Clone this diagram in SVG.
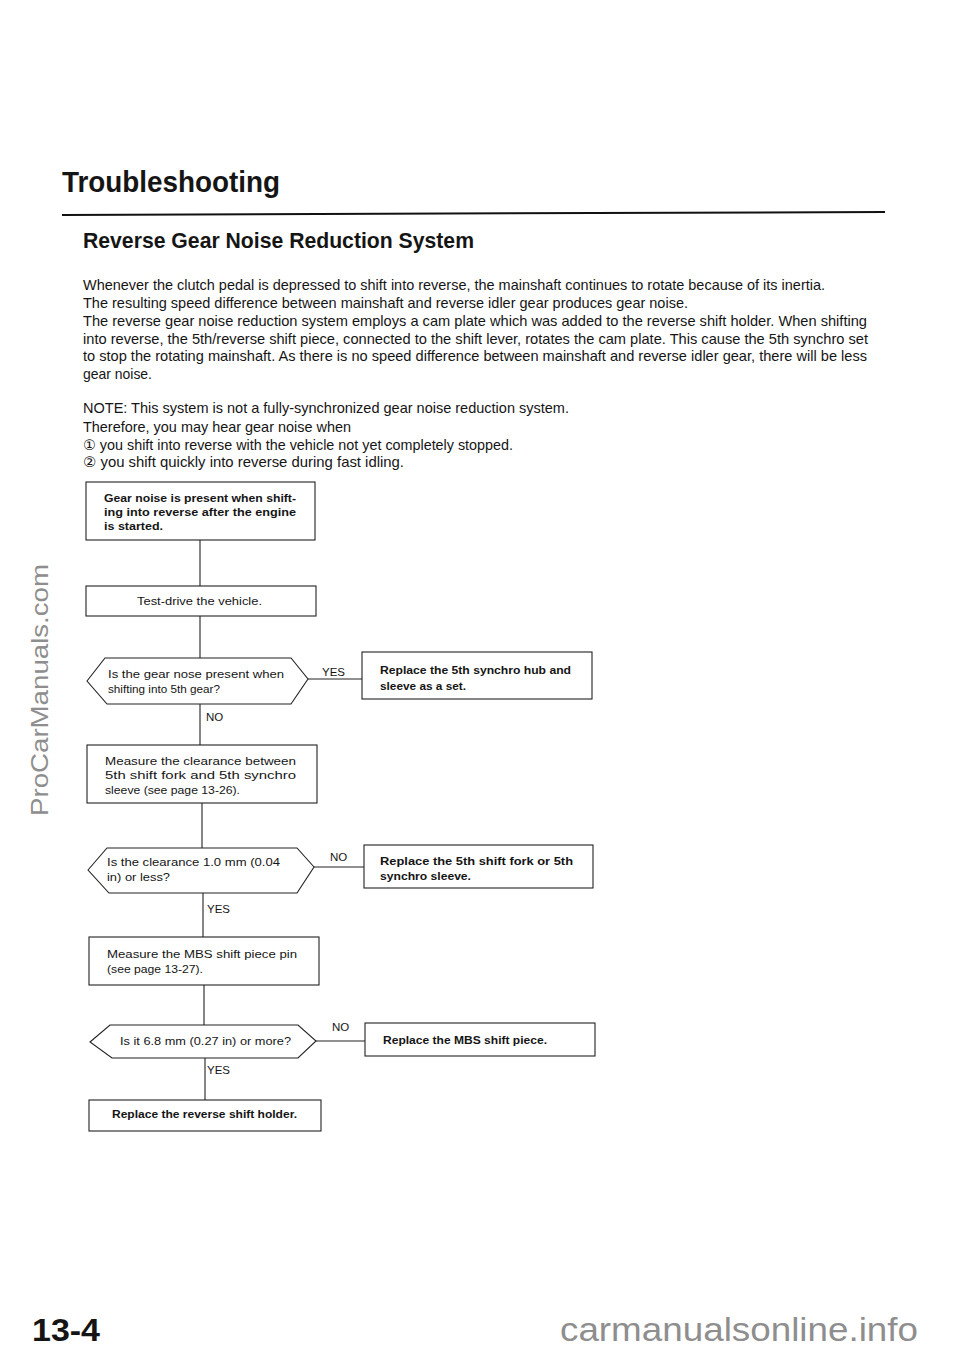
<svg xmlns="http://www.w3.org/2000/svg" width="960" height="1356" viewBox="0 0 960 1356">
<style>
text{font-family:"Liberation Sans","DejaVu Sans",Arial,sans-serif;fill:#151515}
.body{font-size:14.5px}
.fc{font-size:11px}
.b{font-weight:bold}
.lbl{font-size:11.5px}
.box{fill:#fff;stroke:#222;stroke-width:1.1}
.con{stroke:#222;stroke-width:1.1;fill:none}
.wm{fill:#8e8e8e}
</style>
<rect width="960" height="1356" fill="#fff"/>
<g id="header">
<text x="62" y="192" font-size="29" class="b" textLength="218" lengthAdjust="spacingAndGlyphs">Troubleshooting</text>
<line x1="62" y1="215" x2="885" y2="212" stroke="#111" stroke-width="2"/>
<text x="83" y="248" font-size="22" class="b" textLength="391" lengthAdjust="spacingAndGlyphs">Reverse Gear Noise Reduction System</text>
</g>
<g id="intro" class="body">
<text x="83" y="290" textLength="742" lengthAdjust="spacingAndGlyphs">Whenever the clutch pedal is depressed to shift into reverse, the mainshaft continues to rotate because of its inertia.</text>
<text x="83" y="308" textLength="605" lengthAdjust="spacingAndGlyphs">The resulting speed difference between mainshaft and reverse idler gear produces gear noise.</text>
<text x="83" y="326" textLength="784" lengthAdjust="spacingAndGlyphs">The reverse gear noise reduction system employs a cam plate which was added to the reverse shift holder. When shifting</text>
<text x="83" y="344" textLength="785" lengthAdjust="spacingAndGlyphs">into reverse, the 5th/reverse shift piece, connected to the shift lever, rotates the cam plate. This cause the 5th synchro set</text>
<text x="83" y="361" textLength="784" lengthAdjust="spacingAndGlyphs">to stop the rotating mainshaft. As there is no speed difference between mainshaft and reverse idler gear, there will be less</text>
<text x="83" y="379" textLength="69" lengthAdjust="spacingAndGlyphs">gear noise.</text>
<text x="83" y="413" textLength="486" lengthAdjust="spacingAndGlyphs">NOTE:  This system is not a fully-synchronized gear noise reduction system.</text>
<text x="83" y="432" textLength="268" lengthAdjust="spacingAndGlyphs">Therefore, you may hear gear noise when</text>
<text x="83" y="450" textLength="430" lengthAdjust="spacingAndGlyphs">① you shift into reverse with the vehicle not yet completely stopped.</text>
<text x="83" y="467" textLength="321" lengthAdjust="spacingAndGlyphs">② you shift quickly into reverse during fast idling.</text>
</g>
<g id="connectors" class="con">
<line x1="200" y1="540" x2="200" y2="586"/>
<line x1="200" y1="616" x2="200" y2="658"/>
<line x1="308" y1="679" x2="362" y2="679"/>
<line x1="200" y1="704" x2="200" y2="745"/>
<line x1="202" y1="803" x2="202" y2="848"/>
<line x1="314" y1="867" x2="364" y2="867"/>
<line x1="203" y1="893" x2="203" y2="937"/>
<line x1="204" y1="985" x2="204" y2="1025"/>
<line x1="316" y1="1041" x2="365" y2="1041"/>
<line x1="205" y1="1058" x2="205" y2="1100"/>
</g>
<g id="labels" class="lbl">
<text x="322" y="676">YES</text>
<text x="206" y="721">NO</text>
<text x="330" y="861">NO</text>
<text x="207" y="913">YES</text>
<text x="332" y="1031">NO</text>
<text x="207" y="1074">YES</text>
</g>
<g id="n1">
<rect class="box" x="86" y="482" width="229" height="58"/>
<text class="fc b" x="104" y="502" textLength="192" lengthAdjust="spacingAndGlyphs">Gear noise is present when shift-</text>
<text class="fc b" x="104" y="516" textLength="192" lengthAdjust="spacingAndGlyphs">ing into reverse after the engine</text>
<text class="fc b" x="104" y="530" textLength="59" lengthAdjust="spacingAndGlyphs">is started.</text>
</g>
<g id="n2">
<rect class="box" x="86" y="586" width="230" height="30"/>
<text class="fc" x="137" y="605" textLength="125" lengthAdjust="spacingAndGlyphs">Test-drive the vehicle.</text>
</g>
<g id="q1">
<polygon class="box" points="87,681 105,658 291,658 308,679 291,704 107,704"/>
<text class="fc" x="108" y="678" textLength="176" lengthAdjust="spacingAndGlyphs">Is the gear nose present when</text>
<text class="fc" x="108" y="693" textLength="112" lengthAdjust="spacingAndGlyphs">shifting into 5th gear?</text>
</g>
<g id="r1">
<rect class="box" x="362" y="652" width="230" height="47"/>
<text class="fc b" x="380" y="674" textLength="191" lengthAdjust="spacingAndGlyphs">Replace the 5th synchro hub and</text>
<text class="fc b" x="380" y="690" textLength="86" lengthAdjust="spacingAndGlyphs">sleeve as a set.</text>
</g>
<g id="n3">
<rect class="box" x="87" y="745" width="230" height="58"/>
<text class="fc" x="105" y="765" textLength="191" lengthAdjust="spacingAndGlyphs">Measure the clearance between</text>
<text class="fc" x="105" y="779" textLength="191" lengthAdjust="spacingAndGlyphs">5th shift fork and 5th synchro</text>
<text class="fc" x="105" y="794" textLength="135" lengthAdjust="spacingAndGlyphs">sleeve (see page 13-26).</text>
</g>
<g id="q2">
<polygon class="box" points="88,870 107,848 297,848 314,867 297,893 109,893"/>
<text class="fc" x="107" y="866" textLength="173" lengthAdjust="spacingAndGlyphs">Is the clearance 1.0 mm (0.04</text>
<text class="fc" x="107" y="881" textLength="63" lengthAdjust="spacingAndGlyphs">in) or less?</text>
</g>
<g id="r2">
<rect class="box" x="364" y="845" width="229" height="43"/>
<text class="fc b" x="380" y="865" textLength="193" lengthAdjust="spacingAndGlyphs">Replace the 5th shift fork or 5th</text>
<text class="fc b" x="380" y="880" textLength="91" lengthAdjust="spacingAndGlyphs">synchro sleeve.</text>
</g>
<g id="n4">
<rect class="box" x="89" y="937" width="230" height="48"/>
<text class="fc" x="107" y="958" textLength="190" lengthAdjust="spacingAndGlyphs">Measure the MBS shift piece pin</text>
<text class="fc" x="107" y="973" textLength="96" lengthAdjust="spacingAndGlyphs">(see page 13-27).</text>
</g>
<g id="q3">
<polygon class="box" points="90,1042 110,1025 298,1025 316,1041 298,1058 112,1058"/>
<text class="fc" x="120" y="1045" textLength="171" lengthAdjust="spacingAndGlyphs">Is it 6.8 mm (0.27 in) or more?</text>
</g>
<g id="r3">
<rect class="box" x="365" y="1023" width="230" height="33"/>
<text class="fc b" x="383" y="1044" textLength="164" lengthAdjust="spacingAndGlyphs">Replace the MBS shift piece.</text>
</g>
<g id="n5">
<rect class="box" x="89" y="1100" width="232" height="31"/>
<text class="fc b" x="112" y="1118" textLength="185" lengthAdjust="spacingAndGlyphs">Replace the reverse shift holder.</text>
</g>
<g id="footer">
<text x="32" y="1341" font-size="32" class="b" textLength="68" lengthAdjust="spacingAndGlyphs">13-4</text>
<text class="wm" x="560" y="1341" font-size="33" textLength="358" lengthAdjust="spacingAndGlyphs">carmanualsonline.info</text>
<text class="wm" x="0" y="0" font-size="24" text-anchor="middle" transform="translate(48,690) rotate(-90)" textLength="252" lengthAdjust="spacingAndGlyphs">ProCarManuals.com</text>
</g>
</svg>
